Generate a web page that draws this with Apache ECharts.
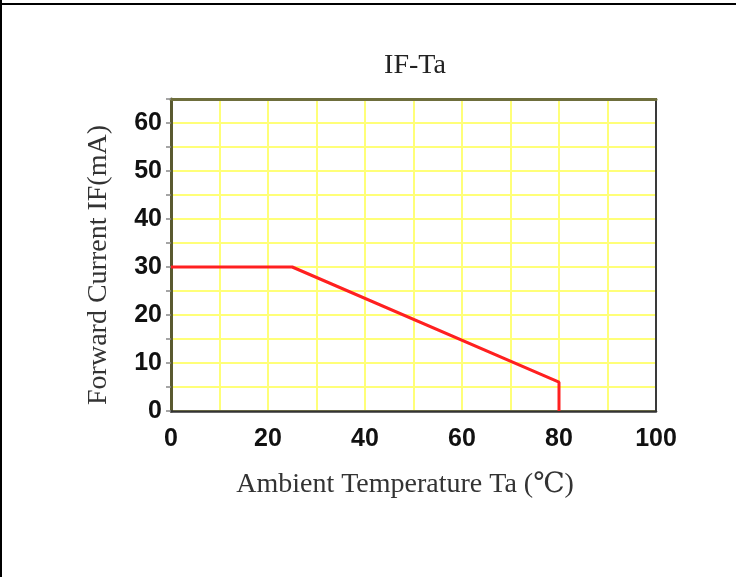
<!DOCTYPE html>
<html>
<head>
<meta charset="utf-8">
<script src="https://cdn.jsdelivr.net/npm/echarts@6/dist/echarts.min.js"></script>
<style>
html,body{margin:0;padding:0;background:#fff;}
#chart{width:736px;height:577px;}
</style>
</head>
<body>
<div id="chart"></div>
<script>
// Data
const chartTitle = 'IF-Ta';
const xTitle = 'Ambient Temperature Ta (\u2103)';
const yTitle = 'Forward Current IF(mA)';
const temperatures = [0, 25, 80, 80];   // Ta (°C)
const currents = [30, 30, 6, 0];        // IF (mA)
const xTicks = [0, 20, 40, 60, 80, 100];
const yTicks = [0, 10, 20, 30, 40, 50, 60];

const serif = '"Liberation Serif", "Times New Roman", "DejaVu Serif", "Noto Sans CJK TC", serif';
const sans = '"Liberation Sans", Arial, "DejaVu Sans", sans-serif';

const chart = echarts.init(document.getElementById('chart'), null, {renderer: 'canvas'});
const seriesData = temperatures.map((t, i) => [t, currents[i]]);

chart.setOption({
  backgroundColor: '#ffffff',
  animation: false,
  title: {
    text: chartTitle,
    left: 410,
    top: 47,
    textAlign: 'center',
    textStyle: {fontFamily: serif, fontSize: 28, fontWeight: 'normal', color: '#222'}
  },
  grid: {
    left: 171, right: 80, top: 99, bottom: 166,
    show: true, borderColor: '#444', borderWidth: 2, backgroundColor: '#ffffff'
  },
  xAxis: [{
    type: 'value',
    min: 0, max: 100, interval: 10,
    name: xTitle,
    nameLocation: 'middle',
    nameGap: 60,
    nameTextStyle: {fontFamily: serif, fontSize: 28, color: '#333', padding: [0, 17, 0, 0]},
    axisLine: {show: true, onZero: false, lineStyle: {color: '#333', width: 2.5}},
    axisTick: {show: false},
    axisLabel: {
      margin: 16,
      fontFamily: sans, fontSize: 25, fontWeight: 'bold', color: '#111',
      formatter: v => xTicks.indexOf(v) >= 0 ? String(v) : ''
    },
    splitLine: {show: true, lineStyle: {color: '#ffff78', width: 2}}
  }, {
    type: 'value', position: 'top',
    min: 0, max: 100,
    axisLine: {show: true, onZero: false, lineStyle: {color: '#6e6e3c', width: 3}},
    axisTick: {show: false}, axisLabel: {show: false}, splitLine: {show: false}
  }],
  yAxis: [{
    type: 'value',
    min: 0, max: 65, interval: 5,
    axisLine: {show: true, onZero: false, lineStyle: {color: '#5a5a30', width: 3}},
    axisTick: {show: true, length: 5, lineStyle: {color: '#888', width: 1.5}},
    axisLabel: {
      margin: 9,
      fontFamily: sans, fontSize: 25, fontWeight: 'bold', color: '#111',
      formatter: v => yTicks.indexOf(v) >= 0 ? String(v) : ''
    },
    splitLine: {show: true, lineStyle: {color: '#ffff78', width: 2}}
  }, {
    type: 'value', position: 'right',
    min: 0, max: 65,
    axisLine: {show: true, onZero: false, lineStyle: {color: '#3a3a3a', width: 2}},
    axisTick: {show: false}, axisLabel: {show: false}, splitLine: {show: false}
  }],
  series: [{
    type: 'line',
    data: seriesData,
    showSymbol: false,
    symbol: 'none',
    lineStyle: {color: '#ff2020', width: 3},
    z: 5
  }],
  graphic: [
    {type: 'rect', shape: {x: 0, y: 3, width: 736, height: 2}, style: {fill: '#000'}, silent: true},
    {type: 'rect', shape: {x: 0, y: 0, width: 2, height: 577}, style: {fill: '#000'}, silent: true},
    {
      type: 'text', x: 99, y: 265, rotation: Math.PI / 2,
      style: {text: yTitle, fontFamily: serif, fontSize: 28, fill: '#333', textAlign: 'center', textVerticalAlign: 'middle'}
    }
  ]
});
</script>
</body>
</html>
